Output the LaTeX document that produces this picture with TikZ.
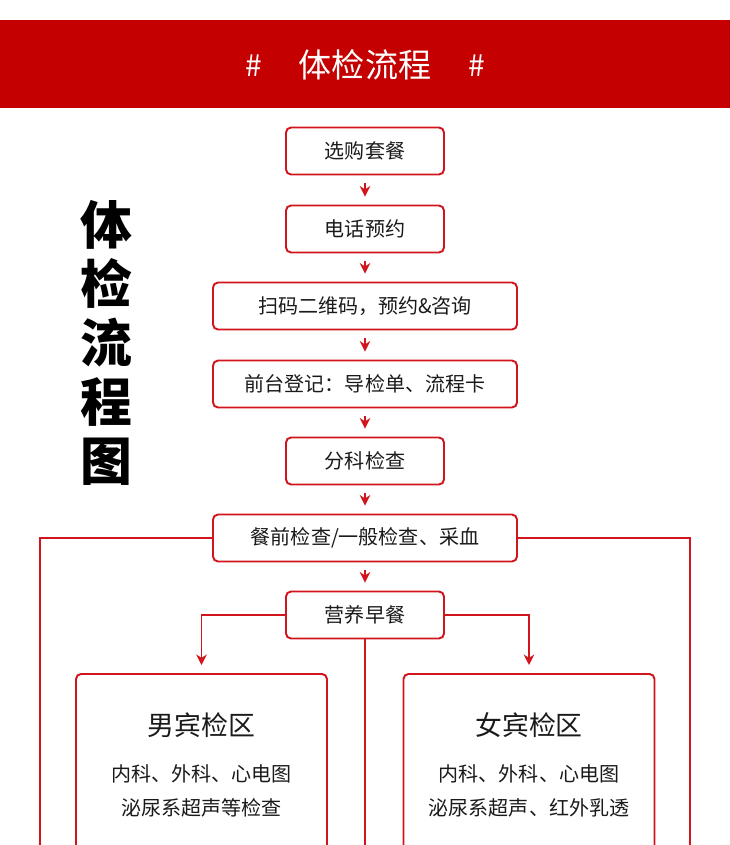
\documentclass[tikz,border=0pt]{standalone}
\usepackage{fontspec}
\newfontfamily\cjk{Noto Sans CJK SC}
\usetikzlibrary{arrows.meta}
\definecolor{barred}{HTML}{C40000}
\definecolor{ckred}{HTML}{D2141C}
\definecolor{ink}{HTML}{1A1A1A}
\tikzset{
  box/.style={draw=ckred, line width=1.1pt, rounded corners=0.1cm, fill=white, text=ink,
    minimum height=0.94cm, inner sep=0pt, font=\cjk\fontsize{11.4}{13}\selectfont},
  small/.style={box, minimum width=3.16cm},
  wide/.style={box, minimum width=6.08cm},
  area/.style={draw=ckred, line width=1.1pt, rounded corners=0.1cm, minimum width=5.02cm,
    minimum height=5cm, anchor=north, inner sep=0pt},
  arr/.style={-{Stealth[length=6pt,width=6pt]}, draw=ckred, line width=0.9pt},
  lnk/.style={draw=ckred, line width=0.8pt},
  body/.style={text=ink, font=\cjk\fontsize{11.4}{13}\selectfont}
}
\begin{document}
\begin{tikzpicture}[x=0.02cm, y=-0.02cm]
\clip (0,0) rectangle (730,845);
\fill[white] (0,0) rectangle (730,845);
% banner
\fill[barred] (0,20) rectangle (730,108);
\node[text=white, font=\cjk\fontsize{17}{19}\selectfont] (hl) at (254,66) {\#};
\node[text=white, font=\cjk\fontsize{18.8}{20}\selectfont] (title) at (365,65) {体检流程};
\node[text=white, font=\cjk\fontsize{17}{19}\selectfont] (hr) at (477,66) {\#};
% vertical title
\node[text=black, align=center, font=\cjk\bfseries\fontsize{29.5}{33.6}\selectfont] (side) at (106,343) {体\\检\\流\\程\\图};
% steps
\node[small] (s1) at (365,151) {选购套餐};
\node[small] (s2) at (365,229) {电话预约};
\node[wide]  (s3) at (365,306) {扫码二维码，预约\&咨询};
\node[wide]  (s4) at (365,384) {前台登记：导检单、流程卡};
\node[small] (s5) at (365,461) {分科检查};
\node[wide]  (s6) at (365,538) {餐前检查/一般检查、采血};
\node[small] (s7) at (365,615) {营养早餐};
\foreach \a/\b in {s1/s2,s2/s3,s3/s4,s4/s5,s5/s6,s6/s7}
  \draw[arr, shorten <=0.16cm, shorten >=0.16cm] (\a.south) -- (\b.north);
% areas
\node[area] (male) at (201.5,673) {};
\node[area] (female) at (529,673) {};
\node[body, font=\cjk\fontsize{15.3}{17}\selectfont] (mt) at (201.5,725) {男宾检区};
\node[body] (m1) at (201.5,774) {内科、外科、心电图};
\node[body] (m2) at (201.5,808) {泌尿系超声等检查};
\node[body, font=\cjk\fontsize{15.3}{17}\selectfont] (ft) at (529,725) {女宾检区};
\node[body] (f1) at (529,774) {内科、外科、心电图};
\node[body] (f2) at (529,808) {泌尿系超声、红外乳透};
% branches
\coordinate (ll) at (40,860);
\coordinate (rr) at (690,860);
\coordinate (mid) at (365,860);
\draw[lnk] (s6.west) -| (ll);
\draw[lnk] (s6.east) -| (rr);
\draw[lnk] (s7.south) -- (mid);
\draw[arr, line width=0.8pt, shorten >=0.16cm] (s7.west) -| (male.north);
\draw[arr, line width=0.8pt, shorten >=0.16cm] (s7.east) -| (female.north);
\end{tikzpicture}
\end{document}
